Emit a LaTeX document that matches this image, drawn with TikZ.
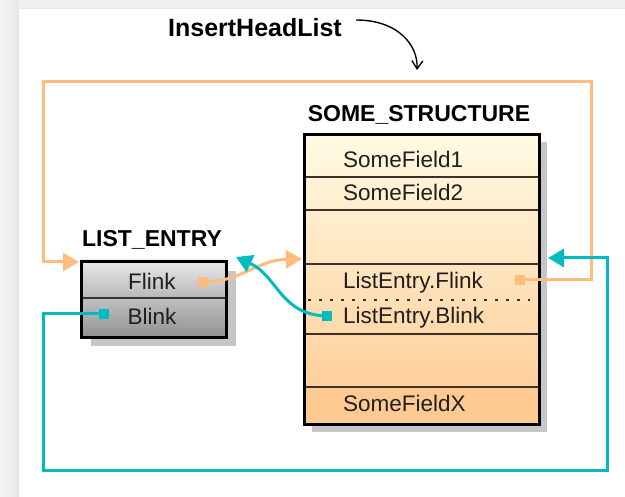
\documentclass[tikz,border=0pt]{standalone}
\usepackage{fontspec}
\setmainfont{Liberation Sans}
\usetikzlibrary{arrows.meta}
\definecolor{linkorange}{RGB}{255,188,125}
\definecolor{linkteal}{RGB}{0,188,190}
\definecolor{structtop}{RGB}{255,251,228}
\definecolor{structbot}{RGB}{255,202,145}
\definecolor{rowline}{RGB}{60,50,40}
\definecolor{shadowgray}{RGB}{198,198,198}
\begin{document}
\begin{tikzpicture}[x=1pt,y=-1pt,
  field/.style={font=\fontsize{22.5}{22.5}\selectfont, text=black!88, inner sep=0pt},
  heading/.style={font=\bfseries\fontsize{23}{23}\selectfont, text=black, inner sep=0pt},
  olink/.style={draw=linkorange, line width=3pt},
  tlink/.style={draw=linkteal, line width=3pt},
  bigtip/.style={-{Triangle[length=16pt,width=18pt]}},
  odot/.style={fill=linkorange, minimum size=10pt, inner sep=0pt},
  tdot/.style={fill=linkteal, minimum size=10pt, inner sep=0pt},
  divider/.style={draw=rowline, line width=1.4pt},
  frame/.style={draw=black, line width=3pt},
]
\useasboundingbox (0,0) rectangle (625,497);

% page background with grey top band and left strip
\fill[white] (0,0) rectangle (625,497);
\fill[black!6] (0,0) rectangle (625,9);
\draw[black!10, line width=1pt] (19,9) -- (625,9);
\shade[left color=black!4, right color=black!10] (0,0) rectangle (19,497);

% ---- LIST_ENTRY ----
\fill[shadowgray] (91,271) rectangle (236,346);
\shade[top color=black!8, bottom color=black!28] (80,260) rectangle (225,298);
\shade[top color=black!25, bottom color=black!42] (80,298) rectangle (225,336);
\draw[divider] (80,298) -- (225,298);
\node[frame, anchor=north west, minimum width=145pt, minimum height=76pt, inner sep=0pt] (le) at (80,260) {};
\node[heading] (letitle) at (152,240) {LIST\_ENTRY};
\node[field] (flink) at (152,281) {Flink};
\node[field] (blink) at (152,316) {Blink};

% ---- SOME_STRUCTURE ----
\fill[shadowgray] (312,142) rectangle (547,432);
\shade[top color=structtop, bottom color=structbot] (303,133) rectangle (538,423);
\fill[structbot] (303,387) rectangle (538,423);
\foreach \yy in {177,210,264,334,387}
  \draw[divider] (303,\yy) -- (538,\yy);
\draw[rowline, line width=1.6pt, dash pattern=on 3pt off 8pt] (308,300) -- (530,300);
\node[frame, anchor=north west, minimum width=235pt, minimum height=290pt, inner sep=0pt] (ss) at (303,133) {};
\node[heading] (sstitle) at (419,115) {SOME\_STRUCTURE};
\node[field, anchor=west] (sf1) at (343,159) {SomeField1};
\node[field, anchor=west] (sf2) at (343,192) {SomeField2};
\node[field, anchor=west] (lef) at (343,283) {ListEntry.Flink};
\node[field, anchor=west] (leb) at (343,318) {ListEntry.Blink};
\node[field, anchor=west] (sfx) at (343,403) {SomeFieldX};

% ---- pointer origins ----
\node[odot] (fdot) at (203,282) {};
\node[tdot] (bdot) at (104,314) {};
\node[odot] (sfdot) at (520,280) {};
\node[tdot] (sbdot) at (327,316) {};

% ---- pointer targets ----
\coordinate (leleft) at (79,262);
\coordinate (lecorner) at (236,257);
\coordinate (ssleft) at (302,259);
\coordinate (ssright) at (548,258);

% ---- links ----
\draw[olink, bigtip] (sfdot.center) -| (591,82) -| (43,262) -- (leleft);
\draw[tlink, bigtip] (bdot.center) -| (43,471) -| (607,258) -- (ssright);
\draw[olink, bigtip] (fdot.center) .. controls (242,282) and (256,260) .. (ssleft);
\draw[tlink, bigtip] (sbdot.center) .. controls (280,315) and (278,276) .. (lecorner);

% ---- operation label ----
\node[heading, font=\bfseries\fontsize{25}{25}\selectfont] (ihl) at (255,28) {InsertHeadList};
\coordinate (ihlstart) at (356,20);
\coordinate (ihlend) at (417,70);
\draw[line width=1.4pt, -{Straight Barb[length=8pt,width=11pt]}]
  (ihlstart) .. controls (398,20) and (418,45) .. (ihlend);
\end{tikzpicture}
\end{document}
